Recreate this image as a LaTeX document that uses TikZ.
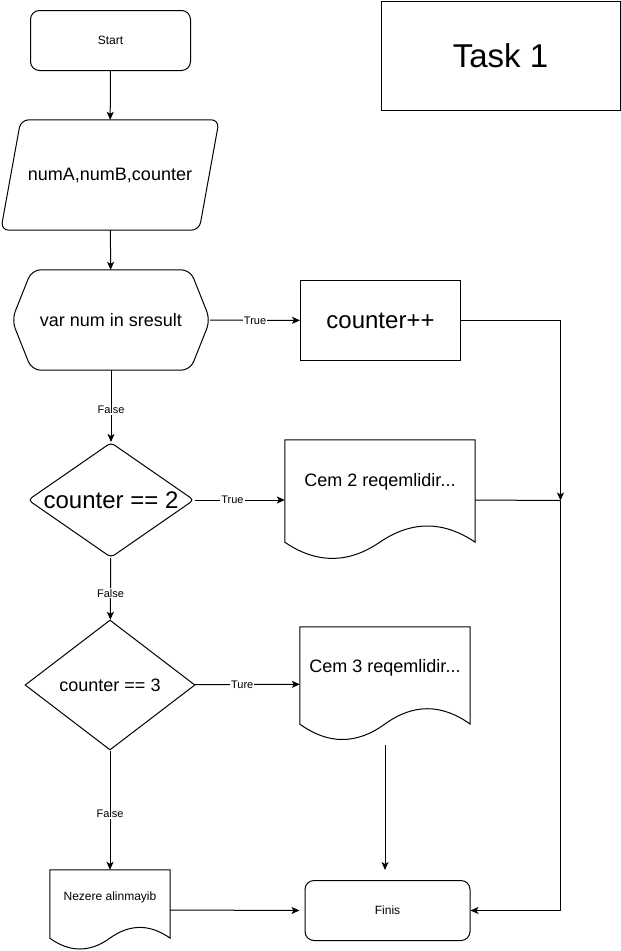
\documentclass[tikz,border=0pt]{standalone}
\usepackage{fontspec}
\setmainfont{Liberation Sans}
\usetikzlibrary{shapes.geometric,arrows.meta,calc}

\tikzset{
  base/.style={draw, line width=1pt, inner sep=0pt},
  hidden/.style={inner sep=0pt},
  term/.style={base, rounded corners=9pt, minimum width=160pt, minimum height=60pt, font=\fontsize{12}{14}\selectfont},
  decide/.style={base, diamond, font=\fontsize{18}{21}\selectfont},
  flow/.style={line width=1pt, -{Stealth[length=8pt,width=7pt,inset=2pt]}},
  line/.style={line width=1pt},
  lbl/.style={fill=white, inner sep=1pt, font=\fontsize{11}{12}\selectfont}
}

% document shape round a hidden node: name, width, height
\newcommand{\docpath}[3]{%
  \draw[line] ($(#1.south west)+(0,-0.15*#3)$) -- (#1.north west) -- (#1.north east) -- ($(#1.south east)+(0,-0.15*#3)$)
    .. controls ($(#1.south west)+(5/6*#2,-0.33*#3)$) and ($(#1.south west)+(2/3*#2,-0.33*#3)$) .. ($(#1.south west)+(0.5*#2,-0.15*#3)$)
    .. controls ($(#1.south west)+(1/3*#2,0.03*#3)$) and ($(#1.south west)+(1/6*#2,0.03*#3)$) .. cycle;}

\begin{document}
\begin{tikzpicture}[x=1pt,y=-1pt]
\useasboundingbox (0,0) rectangle (621,951);

%Shape: Task box
\node[base, minimum width=239pt, minimum height=109pt, font=\fontsize{33}{38}\selectfont] (task) at (500.5,55.5) {Task 1};

%Shape: Start
\node[term] (start) at (110.5,40.5) {Start};

%Shape: Parallelogram
\node[hidden, minimum width=218pt, minimum height=110pt, font=\fontsize{18}{21}\selectfont] (io) at (110,175) {numA,numB,counter};
\draw[line, rounded corners=8pt] ([xshift=20pt]io.north west) -- (io.north east) -- ([xshift=-20pt]io.south east) -- (io.south west) -- cycle;

%Shape: Hexagon
\node[hidden, minimum width=198pt, minimum height=100pt, font=\fontsize{18}{21}\selectfont] (loop) at (111,320) {var num in sresult};
\draw[line, rounded corners=9pt] (loop.west) -- ([xshift=20pt]loop.north west) -- ([xshift=-20pt]loop.north east) -- (loop.east) -- ([xshift=-20pt]loop.south east) -- ([xshift=20pt]loop.south west) -- cycle;

%Shape: Rectangle
\node[base, minimum width=160pt, minimum height=80pt, font=\fontsize{24}{28}\selectfont] (cpp) at (380.5,320.5) {counter++};

%Shape: Diamonds
\node[decide, rounded corners=4pt, aspect=1.45, minimum width=166pt, minimum height=115pt, font=\fontsize{24}{28}\selectfont] (dec2) at (111,500) {counter == 2};
\node[decide, aspect=4, minimum width=170pt, minimum height=130pt] (dec3) at (110,685) {counter == 3};

%Shape: Documents
\node[hidden, minimum width=190pt, minimum height=120pt] (cem2) at (380,500) {};
\docpath{cem2}{190}{120}
\node[hidden, font=\fontsize{18}{21}\selectfont] (cem2txt) at (380,482) {Cem 2 reqemlidir...};

\node[hidden, minimum width=170pt, minimum height=114pt] (cem3) at (385,684) {};
\docpath{cem3}{170}{114}
\node[hidden, font=\fontsize{18}{21}\selectfont] (cem3txt) at (385,668) {Cem 3 reqemlidir...};

\node[hidden, minimum width=120pt, minimum height=80pt] (nez) at (110,910) {};
\docpath{nez}{120}{80}
\node[hidden, font=\fontsize{12}{14}\selectfont] (neztxt) at (110,897) {Nezere alinmayib};

%Shape: Finis
\node[term, minimum width=165pt] (fin) at (387.5,910.5) {Finis};

\coordinate (join) at (560.5,500.5);

% Connectors
\draw[flow] (start) -- (io);
\draw[flow] (io) -- (loop);
\draw[flow] (loop) -- node[lbl]{True} (cpp);
\draw[flow] (loop) -- node[lbl, pos=0.55]{False} (dec2);
\draw[flow] (dec2) -- node[lbl, pos=0.42]{True} (cem2);
\draw[flow] (dec2) -- node[lbl, pos=0.57]{False} (dec3);
\draw[flow] (dec3) -- node[lbl, pos=0.45]{Ture} (cem3);
\draw[flow] (dec3) -- node[lbl, pos=0.53]{False} (nez);
\draw[flow] (cpp.east) -| (join);
\draw[line] (cem2.east) -- (join);
\draw[flow] (join) |- (fin.east);
\draw[flow, shorten <=4pt, shorten >=10pt] (cem3.south) -- (cem3.south |- fin.north);
\draw[flow, shorten >=5pt] (nez.east) -- (fin.west);

\end{tikzpicture}
\end{document}
